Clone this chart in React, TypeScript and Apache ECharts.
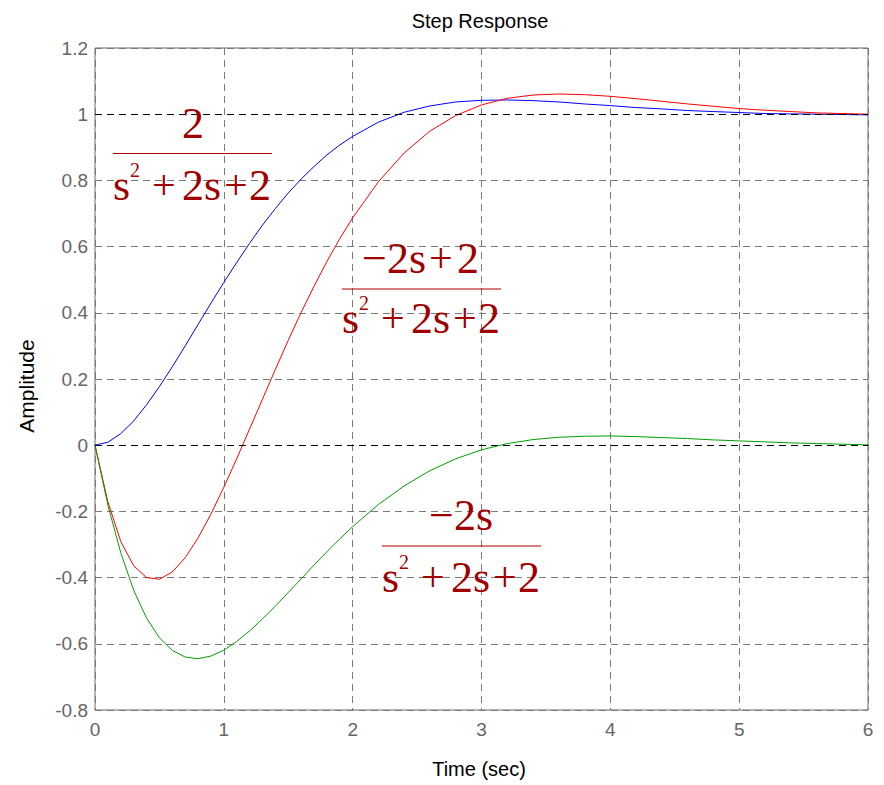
import React, { useEffect, useRef } from "react";
import * as echarts from "echarts";

const time = [
  0, 0.1, 0.2, 0.3, 0.4, 0.5, 0.6, 0.7, 0.8, 0.9, 1.0, 1.1, 1.2, 1.3, 1.4, 1.5, 1.6, 1.7, 1.8, 1.9, 2.0,
  2.2, 2.4, 2.6, 2.8, 3.0, 3.2, 3.4, 3.6, 3.8, 4.0, 4.2, 4.4, 4.6, 4.8, 5.0, 5.2, 5.4, 5.6, 5.8, 6.0,
];
// 2 / (s^2 + 2s + 2)
const blueStep = [
  0, 0.009, 0.035, 0.073, 0.122, 0.177, 0.237, 0.3, 0.365, 0.429, 0.492, 0.552, 0.61, 0.665, 0.715, 0.762,
  0.804, 0.842, 0.877, 0.907, 0.933, 0.976, 1.006, 1.025, 1.037, 1.042, 1.043, 1.041, 1.037, 1.031, 1.026,
  1.02, 1.016, 1.011, 1.008, 1.005, 1.002, 1.001, 1.0, 0.999, 0.998,
];
// (-2s + 2) / (s^2 + 2s + 2)
const redStep = [
  0, -0.171, -0.291, -0.364, -0.4, -0.405, -0.383, -0.34, -0.28, -0.208, -0.127, -0.041, 0.049, 0.139, 0.229,
  0.317, 0.401, 0.48, 0.555, 0.624, 0.687, 0.796, 0.883, 0.949, 0.996, 1.028, 1.048, 1.058, 1.061, 1.059,
  1.054, 1.047, 1.039, 1.031, 1.024, 1.017, 1.012, 1.008, 1.004, 1.002, 1.0,
];
// -2s / (s^2 + 2s + 2)
const greenStep = [
  0, -0.181, -0.325, -0.438, -0.522, -0.582, -0.62, -0.64, -0.645, -0.637, -0.619, -0.593, -0.561, -0.525,
  -0.486, -0.445, -0.404, -0.362, -0.322, -0.283, -0.246, -0.179, -0.123, -0.077, -0.041, -0.014, 0.005,
  0.017, 0.024, 0.027, 0.028, 0.026, 0.023, 0.02, 0.016, 0.013, 0.01, 0.007, 0.005, 0.003, 0.001,
];
const referenceLevels = [0, 1];

const xTicks = { min: 0, max: 6, interval: 1 };
const yTicks = { min: -0.8, max: 1.2, interval: 0.2 };

const SERIF = "'Liberation Serif', 'Times New Roman', serif";
const SANS = "'Liberation Sans', Arial, sans-serif";
const DARK_RED = "#a00000";
const MAIN = 44;
const SUP = 20;
const OP = 42;

// token: [text, offset from row start, kind]  kind: "sup" | "op" | undefined
type Tok = [string, number, string?];

function row(tokens: Tok[], left: number, baseline: number) {
  let text = "";
  const rich: Record<string, any> = {};
  tokens.forEach((tk, i) => {
    const [s, off, kind] = tk;
    const next = tokens[i + 1];
    const key = "t" + i;
    const st: any = {
      fontFamily: SERIF,
      fontSize: kind === "sup" ? SUP : kind === "op" ? OP : MAIN,
      lineHeight: kind === "sup" ? 23 : 50,
      color: DARK_RED,
      verticalAlign: kind === "sup" ? "top" : "middle",
    };
    if (next) st.width = next[1] - off;
    rich[key] = st;
    text += "{" + key + "|" + s + "}";
  });
  return {
    type: "text",
    x: left - 1,
    y: baseline - MAIN * 0.3375,
    silent: true,
    z: 100,
    style: {
      text,
      rich,
      fontFamily: SERIF,
      fontSize: MAIN,
      fill: DARK_RED,
      align: "left",
      verticalAlign: "middle",
    },
  };
}

const denTokens: Tok[] = [
  ["s", 0],
  ["2", 17, "sup"],
  ["+", 39, "op"],
  ["2s", 69],
  ["+", 111, "op"],
  ["2", 136],
];

function fracLine(x1: number, x2: number, y: number) {
  return {
    type: "line",
    silent: true,
    z: 100,
    shape: { x1, y1: y, x2, y2: y },
    style: { stroke: "#b00000", lineWidth: 1.2 },
  };
}

export default function App() {
  const ref = useRef<HTMLDivElement>(null);

  useEffect(() => {
    if (!ref.current) return;
    const chart = echarts.init(ref.current, undefined, { renderer: "svg" });

    const pairs = (ys: number[]) => time.map((t, i) => [t, ys[i]]);

    const graphic: any[] = [
      {
        type: "text",
        x: 480,
        y: 21,
        style: {
          text: "Step Response",
          fontFamily: SANS,
          fontSize: 20,
          fill: "#000",
          align: "center",
          verticalAlign: "middle",
        },
      },
      {
        type: "text",
        x: 479,
        y: 769,
        style: {
          text: "Time (sec)",
          fontFamily: SANS,
          fontSize: 20,
          fill: "#000",
          align: "center",
          verticalAlign: "middle",
        },
      },
      {
        type: "text",
        x: 26,
        y: 386,
        rotation: Math.PI / 2,
        style: {
          text: "Amplitude",
          fontFamily: SANS,
          fontSize: 21,
          fill: "#000",
          align: "center",
          verticalAlign: "middle",
        },
      },
      // 2 / (s^2+2s+2)
      row([["2", 0]], 183, 138),
      fracLine(113, 272, 153.5),
      row(denTokens, 114, 200),
      // (-2s+2) / (s^2+2s+2)
      row(
        [
          ["\u2212", 0],
          ["2s", 25],
          ["+", 67, "op"],
          ["2", 95],
        ],
        363,
        273
      ),
      fracLine(342, 501, 289),
      row(denTokens, 343, 333),
      // -2s / (s^2+2s+2)
      row(
        [
          ["\u2212", 0],
          ["2s", 25],
        ],
        430,
        530
      ),
      fracLine(382, 541, 546),
      row(denTokens, 383, 592),
    ];

    chart.setOption({
      animation: false,
      backgroundColor: "#fff",
      grid: {
        left: 95,
        right: 16,
        top: 48,
        bottom: 75,
        show: true,
        borderColor: "#6a6a6a",
        borderWidth: 1,
        backgroundColor: "transparent",
      },
      xAxis: {
        type: "value",
        min: xTicks.min,
        max: xTicks.max,
        interval: xTicks.interval,
        axisLine: { show: false },
        axisTick: { show: false },
        axisLabel: {
          color: "#666",
          fontFamily: SANS,
          fontSize: 19,
          margin: 10,
        },
        splitLine: {
          show: true,
          lineStyle: { color: "#7a7a7a", type: [7, 5], width: 1 },
        },
      },
      yAxis: {
        type: "value",
        min: yTicks.min,
        max: yTicks.max,
        interval: yTicks.interval,
        axisLine: { show: false },
        axisTick: { show: false },
        axisLabel: {
          color: "#666",
          fontFamily: SANS,
          fontSize: 19,
          margin: 7,
          formatter: (v: number) => String(parseFloat(v.toFixed(1))),
        },
        splitLine: {
          show: true,
          lineStyle: { color: "#7a7a7a", type: [7, 5], width: 1 },
        },
      },
      series: [
        {
          type: "line",
          data: [],
          silent: true,
          markLine: {
            silent: true,
            symbol: ["none", "none"],
            label: { show: false },
            lineStyle: { color: "#000", type: [7, 5], width: 1 },
            data: referenceLevels.map((v) => ({ yAxis: v })),
          },
        },
        {
          name: "blue",
          type: "line",
          data: pairs(blueStep),
          showSymbol: false,
          lineStyle: { color: "#0000ff", width: 1 },
          itemStyle: { color: "#0000ff" },
        },
        {
          name: "red",
          type: "line",
          data: pairs(redStep),
          showSymbol: false,
          lineStyle: { color: "#ff0000", width: 1 },
          itemStyle: { color: "#ff0000" },
        },
        {
          name: "green",
          type: "line",
          data: pairs(greenStep),
          showSymbol: false,
          lineStyle: { color: "#00a000", width: 1 },
          itemStyle: { color: "#00a000" },
        },
      ],
      graphic,
    });

    return () => chart.dispose();
  }, []);

  return (
    <div
      ref={ref}
      style={{ position: "fixed", left: 0, top: 0, width: 884, height: 785, background: "#fff" }}
    />
  );
}
